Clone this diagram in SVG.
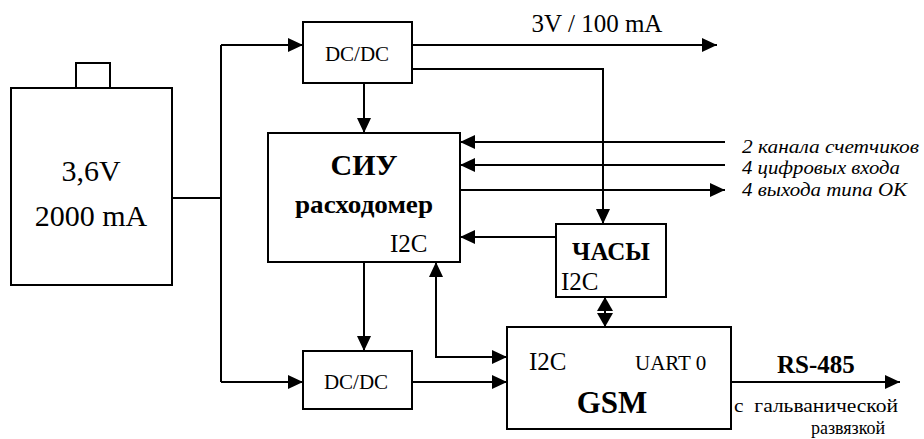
<svg xmlns="http://www.w3.org/2000/svg" width="924" height="439" viewBox="0 0 924 439" font-family="Liberation Serif, DejaVu Serif, serif">
<style>
.box{fill:#fff;stroke:#000;stroke-width:2}
.ln{fill:none;stroke:#000;stroke-width:2}
.ar{marker-end:url(#ah)}
.ar2{marker-start:url(#ah);marker-end:url(#ah)}
.ar3{marker-start:url(#ahs);marker-end:url(#ahs)}
.t{font-family:'Liberation Serif','DejaVu Serif',serif;fill:#000}
.b{font-weight:bold}
.i{font-style:italic}
</style>
<defs>
<marker id="ah" markerUnits="userSpaceOnUse" markerWidth="15" markerHeight="14" refX="15" refY="7" orient="auto-start-reverse" viewBox="0 0 15 14">
<path d="M0,0 L15,7 L0,14 z" fill="#000"/>
</marker>
<marker id="ahs" markerUnits="userSpaceOnUse" markerWidth="14" markerHeight="16" refX="14" refY="8" orient="auto-start-reverse" viewBox="0 0 14 16">
<path d="M0,0 L14,8 L0,16 z" fill="#000"/>
</marker>
</defs>
<g id="connectors">
<line class="ln" x1="172" y1="198" x2="221" y2="198"/>
<line class="ln" x1="221" y1="45" x2="221" y2="382"/>
<line class="ln ar" x1="221" y1="45" x2="303" y2="45"/>
<line class="ln ar" x1="221" y1="382" x2="303" y2="382"/>
<line class="ln ar" x1="412" y1="45" x2="717" y2="45"/>
<path class="ln ar" d="M412,69 H603 V224"/>
<line class="ln ar" x1="364" y1="83" x2="364" y2="133"/>
<line class="ln ar" x1="725" y1="142" x2="460" y2="142"/>
<line class="ln ar" x1="725" y1="165" x2="460" y2="165"/>
<line class="ln ar" x1="460" y1="190" x2="725" y2="190"/>
<line class="ln ar" x1="556" y1="237" x2="460" y2="237"/>
<line class="ln ar" x1="364" y1="262" x2="364" y2="351"/>
<path class="ln ar2" d="M507,357 H436 V262"/>
<line class="ln ar" x1="412" y1="382" x2="507" y2="382"/>
<line class="ln ar3" x1="605" y1="297" x2="605" y2="327"/>
<line class="ln ar" x1="731" y1="382" x2="900" y2="382"/>
<text class="t" x="597" y="32" font-size="25" text-anchor="middle">3V / 100 mA</text>
<text class="t i" x="742" y="153" font-size="18" textLength="177" lengthAdjust="spacingAndGlyphs">2 канала счетчиков</text>
<text class="t i" x="742" y="174" font-size="18" textLength="158" lengthAdjust="spacingAndGlyphs">4 цифровых входа</text>
<text class="t i" x="742" y="196" font-size="18" textLength="165" lengthAdjust="spacingAndGlyphs">4 выхода типа ОК</text>
<text class="t b" x="777" y="373" font-size="25">RS-485</text>
<text class="t" x="734" y="412" font-size="19" xml:space="preserve" textLength="164" lengthAdjust="spacingAndGlyphs">с  гальванической</text>
<text class="t" x="848" y="434" font-size="18" text-anchor="middle">развязкой</text>
</g>
<g id="battery">
<rect class="box" x="76" y="63" width="34" height="25"/>
<rect class="box" x="11" y="88" width="161" height="197"/>
<text class="t" x="91" y="181" font-size="30" text-anchor="middle">3,6V</text>
<text class="t" x="91" y="226" font-size="30" text-anchor="middle">2000 mA</text>
</g>
<g id="dcdc1">
<rect class="box" x="303" y="22" width="109" height="61"/>
<text class="t" x="357" y="61" font-size="21" text-anchor="middle">DC/DC</text>
</g>
<g id="siu">
<rect class="box" x="268" y="133" width="192" height="129"/>
<text class="t b" x="364" y="175" font-size="30" text-anchor="middle">СИУ</text>
<text class="t b" x="295" y="213" font-size="25" textLength="138" lengthAdjust="spacingAndGlyphs">расходомер</text>
<text class="t" x="390" y="252" font-size="25">I2C</text>
</g>
<g id="clock">
<rect class="box" x="556" y="224" width="110" height="73"/>
<text class="t b" x="611" y="260" font-size="25" text-anchor="middle">ЧАСЫ</text>
<text class="t" x="561" y="290" font-size="25">I2C</text>
</g>
<g id="dcdc2">
<rect class="box" x="303" y="351" width="109" height="58"/>
<text class="t" x="356" y="389" font-size="21" text-anchor="middle">DC/DC</text>
</g>
<g id="gsm">
<rect class="box" x="507" y="327" width="224" height="102"/>
<text class="t" x="529" y="370" font-size="25">I2C</text>
<text class="t" x="635" y="370" font-size="21">UART 0</text>
<text class="t b" x="612" y="413" font-size="31" text-anchor="middle">GSM</text>
</g>
</svg>
